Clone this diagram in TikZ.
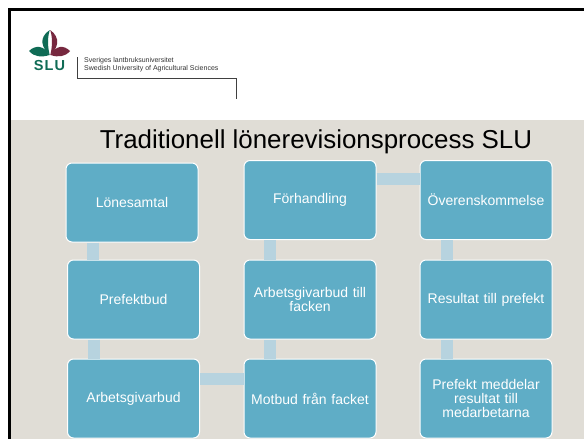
\documentclass[tikz,border=0pt]{standalone}
\usepackage{fontspec}
\setmainfont{Liberation Sans}
\usetikzlibrary{positioning}
\definecolor{sandbg}{HTML}{E0DDD6}
\definecolor{boxblue}{HTML}{5FADC6}
\definecolor{linkblue}{HTML}{B7D3DF}
\definecolor{slugreen}{HTML}{0F6B55}
\definecolor{slured}{HTML}{77283F}
\tikzset{stepbox/.style = {draw = white, line width = 1pt, fill = boxblue, rounded corners = 6pt,
                           minimum width = 132pt, minimum height = 79pt, inner sep = 2pt,
                           text width = 126pt, align = center, text = white,
                           font = \fontsize{14}{14.3}\selectfont}}
\tikzset{link/.style = {draw = linkblue, line width = 12pt}}
\begin{document}
\begin{tikzpicture}[x = 1pt, y = -1pt]
  \useasboundingbox (0, 0) rectangle (584, 439);
  \fill [white] (0, 0) rectangle (584, 439);
  \fill [sandbg] (10, 120) rectangle (584, 439);
  \draw [line width = 2.6pt] (584, 9.3) -- (9.3, 9.3) -- (9.3, 439);
  % logo
  \fill [slugreen] (49.7, 30) .. controls (38, 38) and (42, 48) .. (49.7, 55) .. controls (47, 44) and (48, 36) .. (49.7, 30);
  \fill [slured] (50.3, 30) .. controls (61, 38) and (58, 48) .. (50.3, 55) .. controls (53, 44) and (52, 36) .. (50.3, 30);
  \fill [slugreen] (29, 51) .. controls (35, 45) and (44, 45) .. (49.5, 55) .. controls (42, 57.5) and (34, 57) .. (29, 51);
  \fill [slured] (70, 51) .. controls (64, 45) and (56, 45) .. (50.5, 55) .. controls (58, 57.5) and (65, 57) .. (70, 51);
  \node (slu) [text = slugreen, font = \fontsize{14.5}{14.5}\bfseries\addfontfeatures{LetterSpace=7}, inner sep = 0] at (49.5, 66) {SLU};
  \node (uni) [anchor = west, align = left, inner sep = 0, font = \fontsize{7}{8.6}\selectfont, text = black!80] at (84, 64.8) {Sveriges lantbruksuniversitet\\Swedish University of Agricultural Sciences};
  \draw [black!75, line width = 0.8pt] (77, 57) -- (77, 78) -- (236, 78) -- (236, 99);
  \node (title) [font = \fontsize{25.9}{26}\selectfont, inner sep = 0] at (316, 141.5) {Traditionell lönerevisionsprocess SLU};
  % boxes
  \node (lonesamtal) [stepbox] at (132, 202.5) {Lönesamtal};
  \node (prefektbud) [stepbox] at (133.5, 299.5) {Prefektbud};
  \node (arbetsgivarbud) [stepbox] at (133.5, 398.5) {Arbetsgivarbud};
  \node (forhandling) [stepbox] at (310, 200) {Förhandling};
  \node (facken) [stepbox] at (310, 299.5) {Arbetsgivarbud till\\facken};
  \node (motbud) [stepbox] at (310, 398.5) {Motbud från facket};
  \node (overens) [stepbox] at (486, 200) {Överenskommelse};
  \node (resultat) [stepbox] at (486, 299.5) {Resultat till prefekt};
  \node (meddelar) [stepbox] at (486, 398.5) {Prefekt meddelar\\resultat till\\medarbetarna};
  % links
  \draw [link] ([xshift = 27pt] lonesamtal.south west) -- ([xshift = 27pt] lonesamtal.south west |- prefektbud.north);
  \draw [link] ([xshift = 27pt] prefektbud.south west) -- ([xshift = 27pt] arbetsgivarbud.north west);
  \draw [link] (arbetsgivarbud.east |- 0, 379) -- (motbud.west |- 0, 379);
  \draw [link] ([xshift = 26pt] motbud.north west) -- ([xshift = 26pt] facken.south west);
  \draw [link] ([xshift = 26pt] facken.north west) -- ([xshift = 26pt] forhandling.south west);
  \draw [link] (forhandling.east |- 0, 179) -- (overens.west |- 0, 179);
  \draw [link] ([xshift = 27pt] overens.south west) -- ([xshift = 27pt] resultat.north west);
  \draw [link] ([xshift = 27pt] resultat.south west) -- ([xshift = 27pt] meddelar.north west);
\end{tikzpicture}
\end{document}
